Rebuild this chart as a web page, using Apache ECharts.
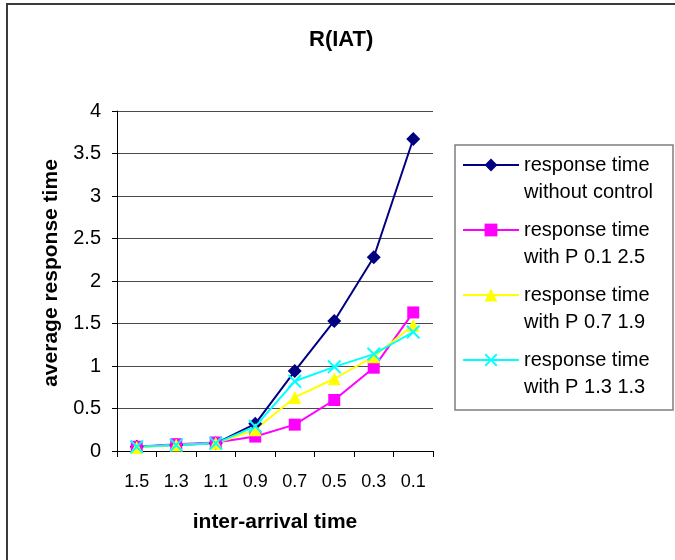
<!DOCTYPE html>
<html>
<head>
<meta charset="utf-8">
<style>
  html, body { margin: 0; padding: 0; background: #fff; }
  #chart { width: 675px; height: 560px; }
</style>
<script src="https://cdn.jsdelivr.net/npm/echarts@6/dist/echarts.min.js"></script>
</head>
<body>
<div id="chart"></div>
<script>
// Inter-arrival time categories (descending) and average response times per control setting
const categories = ['1.5', '1.3', '1.1', '0.9', '0.7', '0.5', '0.3', '0.1'];
const withoutControl = [0.05, 0.07, 0.09, 0.32, 0.94, 1.53, 2.28, 3.67];
const withP01_25 = [0.05, 0.08, 0.10, 0.17, 0.31, 0.60, 0.98, 1.63];
const withP07_19 = [0.04, 0.07, 0.09, 0.25, 0.63, 0.85, 1.11, 1.48];
const withP13_13 = [0.05, 0.07, 0.09, 0.29, 0.82, 0.99, 1.14, 1.40];
const seriesNames = [
  'response time\nwithout control',
  'response time\nwith P 0.1 2.5',
  'response time\nwith P 0.7 1.9',
  'response time\nwith P 1.3 1.3'
];

const FONT = '"Liberation Sans", Arial, sans-serif';
// X-shaped marker built as a filled outline
const crossPath = 'path://M0,1L1,0L5,4L9,0L10,1L6,5L10,9L9,10L5,6L1,10L0,9L4,5Z';

function lineSeries(name, data, color, symbol, size) {
  return {
    name: name,
    type: 'line',
    data: data,
    symbol: symbol,
    symbolSize: size,
    symbolKeepAspect: true,
    showAllSymbol: true,
    lineStyle: { color: color, width: 2 },
    itemStyle: { color: color },
    emphasis: { disabled: true },
    animation: false
  };
}

const chart = echarts.init(document.getElementById('chart'), null, { renderer: 'canvas' });
chart.setOption({
  backgroundColor: '#ffffff',
  animation: false,
  textStyle: { fontFamily: FONT, color: '#000' },
  title: {
    text: 'R(IAT)',
    left: 309,
    top: 29,
    padding: 0,
    textStyle: { fontFamily: FONT, fontSize: 22, fontWeight: 'bold', color: '#000' }
  },
  graphic: [
    {
      type: 'rect', silent: true, z: -1,
      shape: { x: 7, y: 4, width: 720, height: 620 },
      style: { fill: null, stroke: '#3a3a3a', lineWidth: 2 }
    },
    {
      type: 'rect', silent: true,
      shape: { x: 455, y: 145, width: 218, height: 265 },
      style: { fill: '#fff', stroke: '#7f7f7f', lineWidth: 1.5 }
    }
  ],
  legend: {
    orient: 'vertical',
    left: 462,
    top: 124.5,
    padding: 0,
    itemWidth: 56,
    itemHeight: 16,
    itemGap: -16,
    selectedMode: false,
    data: seriesNames,
    // leading blank line keeps the marker level with the first text line
    formatter: function (name) { return '\n' + name; },
    textStyle: { fontFamily: FONT, fontSize: 20, lineHeight: 27, color: '#000' }
  },
  grid: { left: 117, right: 242, top: 111, bottom: 109, containLabel: false },
  xAxis: {
    type: 'category',
    data: categories,
    boundaryGap: true,
    name: 'inter-arrival time',
    nameLocation: 'middle',
    nameGap: 61,
    nameTextStyle: { fontFamily: FONT, fontSize: 21, fontWeight: 'bold', color: '#000' },
    axisLine: { lineStyle: { color: '#000', width: 1 } },
    axisTick: { show: true, alignWithLabel: false, length: 6, lineStyle: { color: '#000' } },
    axisLabel: { fontFamily: FONT, fontSize: 18, color: '#000', margin: 22, interval: 0 },
    splitLine: { show: false }
  },
  yAxis: {
    type: 'value',
    min: 0,
    max: 4,
    interval: 0.5,
    name: 'average response time',
    nameLocation: 'middle',
    nameGap: 55,
    nameTextStyle: { fontFamily: FONT, fontSize: 21, fontWeight: 'bold', color: '#000', padding: [0, 0, 0, 16] },
    axisLine: { show: true, lineStyle: { color: '#000', width: 1 } },
    axisTick: { show: true, length: 5, lineStyle: { color: '#000' } },
    axisLabel: { fontFamily: FONT, fontSize: 20, color: '#000', margin: 16 },
    splitLine: { show: true, lineStyle: { color: '#4a4a4a', width: 1 } }
  },
  series: [
    lineSeries(seriesNames[0], withoutControl, '#000080', 'diamond', 14),
    lineSeries(seriesNames[1], withP01_25, '#ff00ff', 'rect', 12),
    lineSeries(seriesNames[2], withP07_19, '#ffff00', 'triangle', 13),
    lineSeries(seriesNames[3], withP13_13, '#00ffff', crossPath, 14)
  ]
});
</script>
</body>
</html>
